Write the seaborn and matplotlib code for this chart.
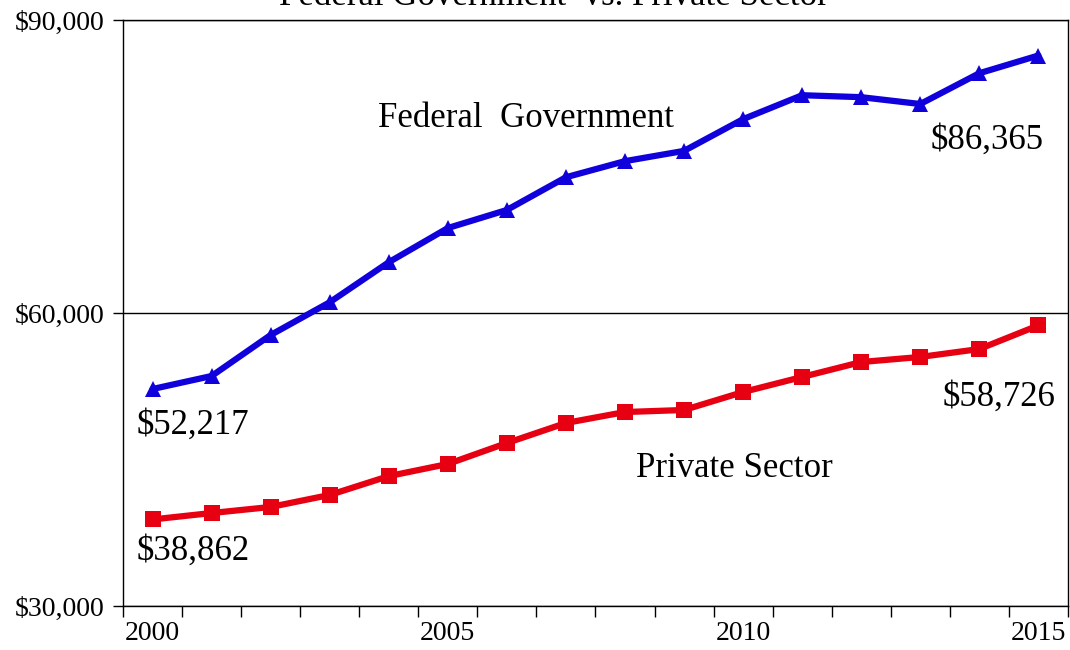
import numpy as np
import pandas as pd
import matplotlib
matplotlib.use("Agg")
import matplotlib.pyplot as plt
import seaborn as sns
from matplotlib.ticker import FixedLocator, FuncFormatter

years = list(range(2000, 2016))
federal = [52217, 53550, 57750, 61100, 65200, 68700, 70550, 73900,
           75550, 76600, 79850, 82300, 82100, 81400, 84550, 86365]
private = [38862, 39520, 40140, 41370, 43300, 44540, 46690, 48740,
           49860, 50070, 51910, 53450, 54980, 55500, 56310, 58726]
series_names = ["Federal Government", "Private Sector"]
title_text = "Federal Government  vs. Private Sector"
y_ticks = [30000, 60000, 90000]
x_tick_labels = ["2000", "2005", "2010", "2015"]

sns.set_theme(style="white")
plt.rcParams["font.family"] = ["Liberation Serif", "DejaVu Serif"]
plt.rcParams["text.color"] = "black"
plt.rcParams["xtick.color"] = "black"
plt.rcParams["ytick.color"] = "black"

df = pd.DataFrame({
    "idx": list(range(len(years))) * 2,
    "value": federal + private,
    "series": [series_names[0]] * len(years) + [series_names[1]] * len(years),
})

fig = plt.figure(figsize=(10.7, 6.5), dpi=100)
ax = fig.add_axes([0.115, 0.0677, 0.883, 0.9015])

palette = {series_names[0]: "#1000DC", series_names[1]: "#E60012"}
markers = {series_names[0]: "^", series_names[1]: "s"}
sns.lineplot(data=df, x="idx", y="value", hue="series", style="series",
             palette=palette, markers=markers, dashes=False, linewidth=4.5,
             markersize=11, markeredgewidth=0, legend=False, ax=ax)

ax.set_xlim(-0.5, len(years) - 0.5)
ax.set_ylim(30000, 90000)
ax.set_xlabel("")
ax.set_ylabel("")

ax.yaxis.set_major_locator(FixedLocator(y_ticks))
ax.yaxis.set_major_formatter(FuncFormatter(lambda v, p: f"${v:,.0f}"))
ax.yaxis.grid(True, color="black", linewidth=1.0)
ax.xaxis.grid(False)

major_idx = [years.index(int(t)) for t in x_tick_labels]
ax.set_xticks(major_idx)
ax.set_xticklabels(x_tick_labels)
ax.set_xticks(np.arange(-0.5, len(years), 1.0), minor=True)
ax.tick_params(axis="x", which="major", length=0, pad=11, labelsize=20)
ax.tick_params(axis="x", which="minor", length=8, width=1, direction="out",
               color="black", bottom=True)
ax.tick_params(axis="y", which="major", length=7, width=1, direction="out",
               color="black", left=True, labelsize=20, pad=6)

for s in ax.spines.values():
    s.set_color("black")
    s.set_linewidth(1.0)
ax.set_axisbelow(True)

fs = 25
ax.text(3.82, 79966, "Federal  Government", fontsize=fs, va="center", ha="left")
ax.text(13.18, 77713, f"${federal[-1]:,}", fontsize=fs, va="center", ha="left")
ax.text(-0.27, 48533, f"${federal[0]:,}", fontsize=fs, va="center", ha="left")
ax.text(13.38, 51399, f"${private[-1]:,}", fontsize=fs, va="center", ha="left")
ax.text(8.19, 44129, "Private Sector", fontsize=fs, va="center", ha="left")
ax.text(-0.27, 35630, f"${private[0]:,}", fontsize=fs, va="center", ha="left")

fig.text(0.518, 0.993, title_text, fontsize=25, ha="center", va="baseline")

fig.savefig("out.png", dpi=100)
